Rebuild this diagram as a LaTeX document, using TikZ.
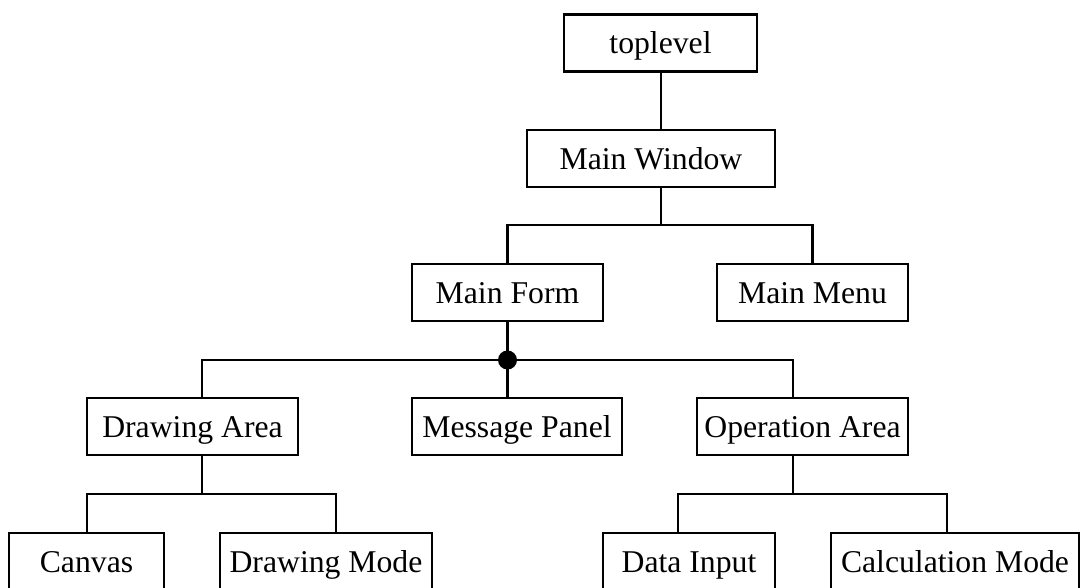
\documentclass[tikz,border=0pt]{standalone}
\usepackage{fontspec}
\setmainfont{Liberation Serif}
\begin{document}
\begin{tikzpicture}[x=1pt,y=-1pt,
  box/.style={draw, line width=2.2pt, inner sep=0pt, minimum height=57pt,
    text height=21pt, text depth=0pt, font=\fontsize{31.7}{38}\selectfont},
  conn/.style={line width=2.2pt}]
\useasboundingbox (0,0) rectangle (1082,587);
% level 0-1
\node[box, minimum width=193pt] (top) at (660.5,43) {toplevel};
\node[box, minimum width=248pt] (mw) at (651,158.5) {Main Window};
% level 2
\node[box, minimum width=191pt] (mf) at (507.5,292.5) {Main Form};
\node[box, minimum width=191pt] (mm) at (812.5,292.5) {Main Menu};
% level 3
\node[box, minimum width=211pt] (da) at (192.5,426.5) {Drawing Area};
\node[box, minimum width=210pt] (mp) at (517,426.5) {Message Panel};
\node[box, minimum width=211pt] (oa) at (802.5,426.5) {Operation Area};
% level 4
\node[box, minimum width=155pt] (cv) at (86.5,561.5) {Canvas};
\node[box, minimum width=212pt] (dm) at (326,561.5) {Drawing Mode};
\node[box, minimum width=172pt] (di) at (689,561.5) {Data Input};
\node[box, minimum width=248pt] (cm) at (955,561.5) {Calculation Mode};
% junctions
\coordinate (b1) at (660.7,225);
\coordinate (b1l) at (507.5,225);
\coordinate (b1r) at (812.5,225);
\coordinate (b2) at (507.5,360);
\coordinate (b2l) at (202,360);
\coordinate (b2r) at (793.3,360);
\coordinate (b3l) at (86.7,494);
\coordinate (b3r) at (336,494);
\coordinate (b4l) at (678.3,494);
\coordinate (b4r) at (947,494);
% connectors
\draw[conn] (top.south -| b1) -- (mw.north -| b1);
\draw[conn] (mw.south -| b1) -- (b1);
\draw[conn] (mf.north -| b1l) -- (b1l) -- (b1r) -- (mm.north -| b1r);
\draw[conn] (mf.south -| b2) -- (mp.north -| b2);
\draw[conn] (da.north -| b2l) -- (b2l) -- (b2r) -- (oa.north -| b2r);
\fill (b2) circle (9.5);
\draw[conn] (da.south -| b2l) -- (b2l |- b3l);
\draw[conn] (cv.north -| b3l) -- (b3l) -- (b3r) -- (dm.north -| b3r);
\draw[conn] (oa.south -| b2r) -- (b2r |- b4l);
\draw[conn] (di.north -| b4l) -- (b4l) -- (b4r) -- (cm.north -| b4r);
\end{tikzpicture}
\end{document}
